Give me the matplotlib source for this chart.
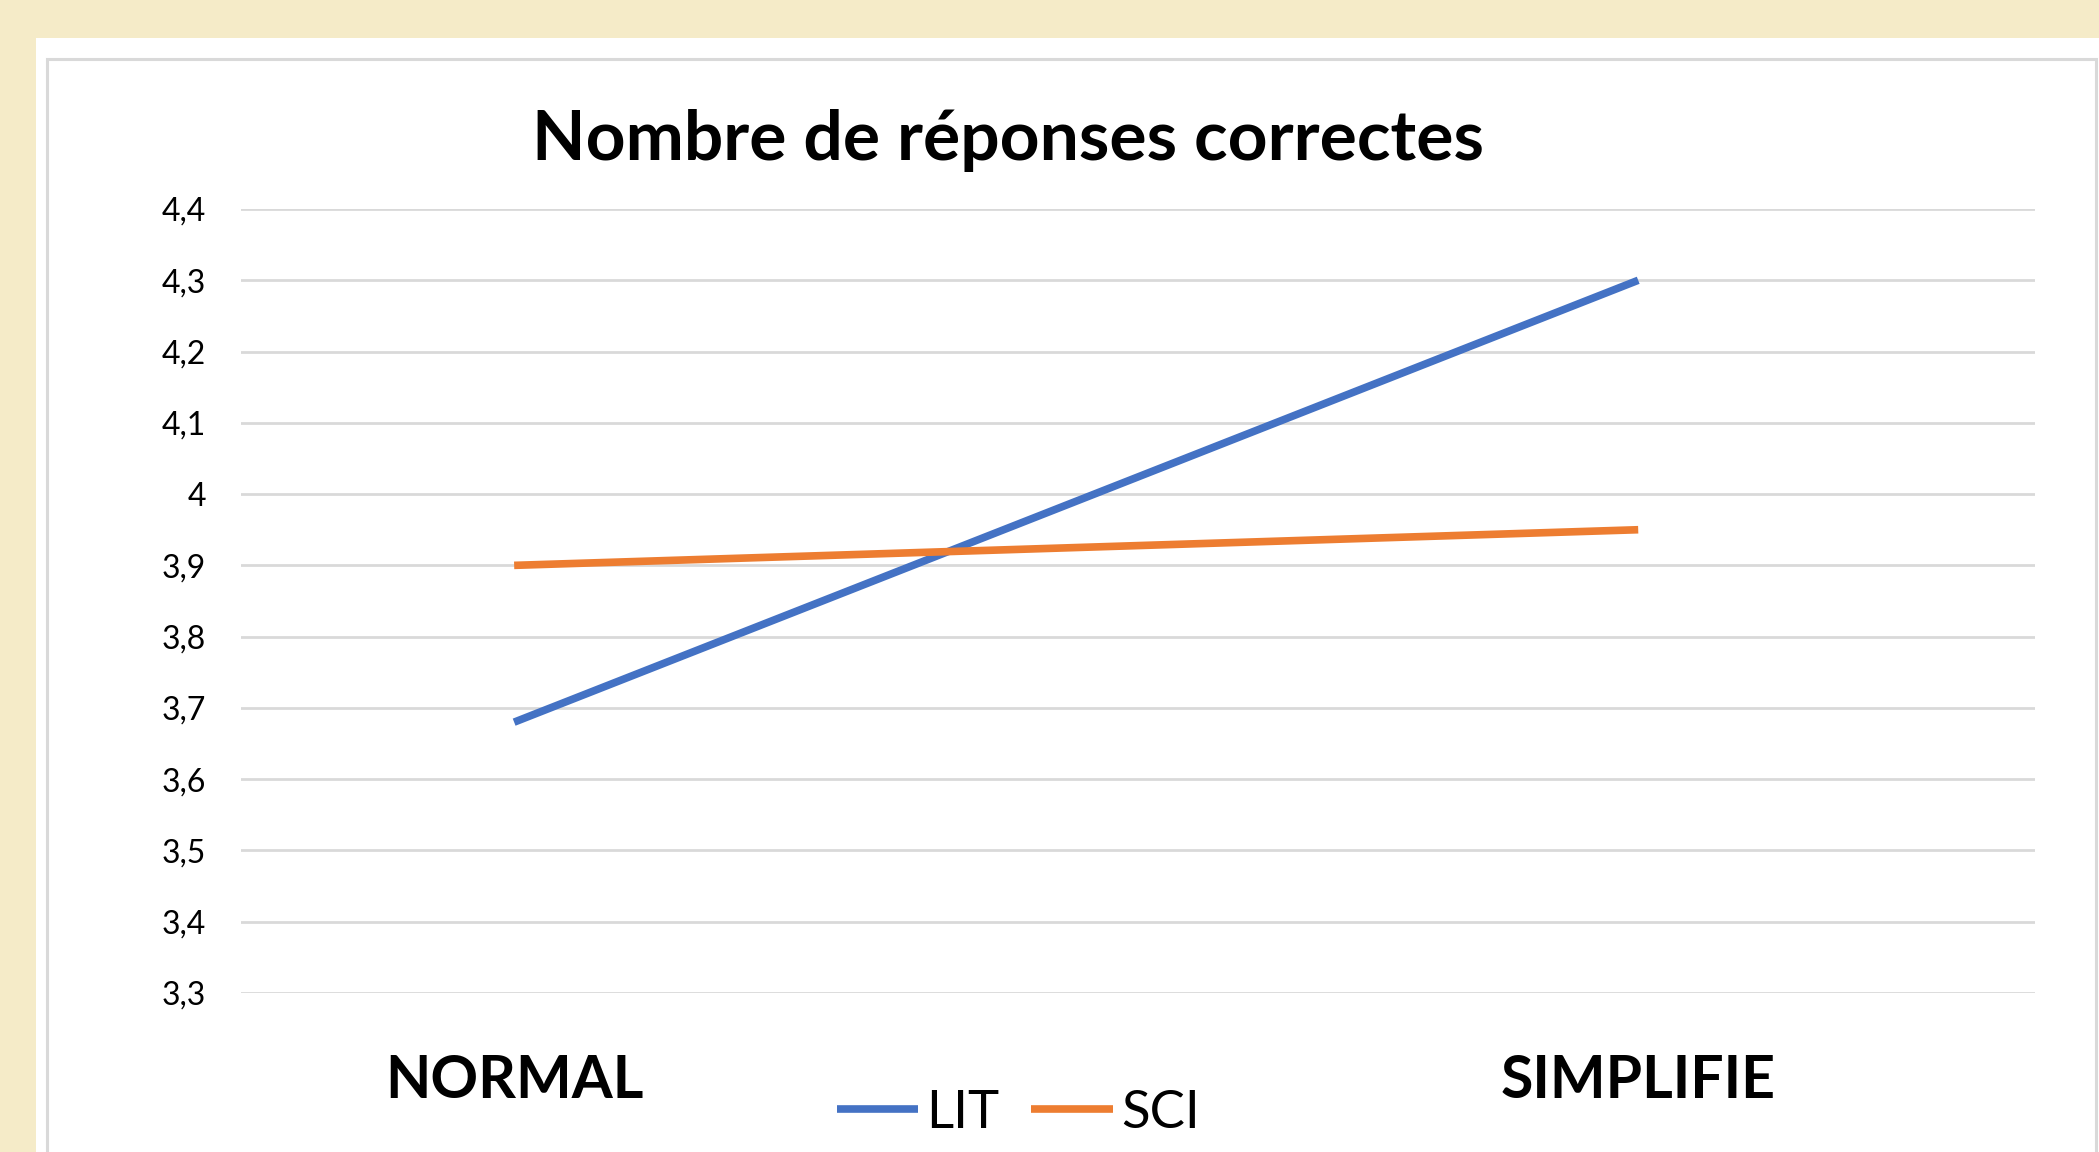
import matplotlib.pyplot as plt
from matplotlib.patches import Rectangle
from matplotlib.ticker import FuncFormatter

plt.rcParams['font.family'] = ['Lato', 'DejaVu Sans']

# data
categories = ["NORMAL", "SIMPLIFIE"]
lit = [3.68, 4.30]
sci = [3.90, 3.95]
yticks = [3.3, 3.4, 3.5, 3.6, 3.7, 3.8, 3.9, 4.0, 4.1, 4.2, 4.3, 4.4]

W, H = 2099, 1152
fig = plt.figure(figsize=(W / 100, H / 100), dpi=100)
fig.patch.set_facecolor('#F5EBC8')

# white sheet and light grey chart frame (pixel coords -> figure fraction)
def px_rect(x0, y0, x1, y1, **kw):
    fig.patches.append(Rectangle((x0 / W, 1 - y1 / H), (x1 - x0) / W, (y1 - y0) / H,
                                 transform=fig.transFigure, **kw))

px_rect(36, 38, W, H + 5, facecolor='white', edgecolor='none', zorder=-3)
px_rect(46.5, 58.5, 2095.5, H + 10, facecolor='none', edgecolor='#D9D9D9', linewidth=2.2, zorder=-2)

ax = fig.add_axes([241 / W, 1 - 993 / H, (2035 - 241) / W, (993 - 209) / H])
ax.set_facecolor('none')

x = list(range(len(categories)))
ax.plot(x, lit, color='#4472C4', linewidth=5.5, solid_capstyle='butt', label='LIT', zorder=3)
ax.plot(x, sci, color='#ED7D31', linewidth=5.5, solid_capstyle='butt', label='SCI', zorder=3)

ax.set_ylim(3.3, 4.4)
ax.set_yticks(yticks)
ax.yaxis.set_major_formatter(FuncFormatter(lambda v, p: f"{round(v, 1):g}".replace('.', ',')))
ax.set_xlim(-0.243, 1.353)
ax.set_xticks(x)
ax.set_xticklabels(categories, fontsize=42.5, fontweight='bold')

ax.grid(axis='y', color='#D9D9D9', linewidth=2)
ax.set_axisbelow(True)
for s in ax.spines.values():
    s.set_visible(False)
ax.tick_params(axis='y', length=0, labelsize=23, pad=25)
ax.tick_params(axis='x', length=0, pad=44)

fig.text(1008 / W, 1 - 141 / H, "Nombre de réponses correctes", ha='center', va='center',
         fontsize=50, fontweight='bold')

fig.legend(loc='center', bbox_to_anchor=(1018 / W, 1 - 1113 / H), ncol=2, frameon=False,
           fontsize=38, handlelength=1.55, handletextpad=0.15, columnspacing=0.6,
           borderaxespad=0, borderpad=0)

fig.savefig('out.png', dpi=100, facecolor=fig.get_facecolor())
